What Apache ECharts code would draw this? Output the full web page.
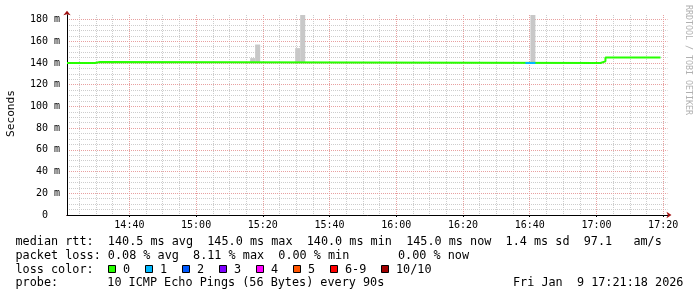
<!DOCTYPE html>
<html><head><meta charset="utf-8">
<script src="https://cdn.jsdelivr.net/npm/echarts@6/dist/echarts.min.js"></script>
<style>html,body{margin:0;padding:0;background:#fff}#c{width:697px;height:297px}</style>
</head><body><div id="c"></div>
<script>
// ---- data ----
const xTickLabels = ['14:40','15:00','15:20','15:40','16:00','16:20','16:40','17:00','17:20'];
const yTickValues = [0,20,40,60,80,100,120,140,160,180];
const axisStart = '14:21:18';
const axisEnd = '17:21:18';
const yMax = 184.2;

// median RTT (ms), step changes: value holds from each time until the next
const medianTimes  = ['14:21:18','14:29:42','14:31:12','17:01:12','17:02:42','17:19:12'];
const medianValues = [140, 141, 140, 141.5, 145, 145];

// smoke (ping spread) per 90 s step
const smokeStart = ['15:16:12','15:17:42','15:29:42','15:31:12','16:40:12'];
const smokeEnd   = ['15:17:42','15:19:12','15:31:12','15:32:42','16:41:42'];
const smokeLow   = [140, 140, 140, 140, 140];
const smokeHigh  = [144.5, 157, 153.7, 184.2, 184.2];

// packet-loss coloured stretches of the median line
const lossStart  = ['16:38:42'];
const lossEnd    = ['16:41:42'];
const lossLevel  = [1];
const lossMedian = [140];

const lossNames  = ['0','1','2','3','4','5','6-9','10/10'];
const lossColors = ['#26ff00','#00b8ff','#0059ff','#7e00ff','#ff00ff','#ff5500','#ff0000','#a10000'];

const statRtt  = 'median rtt:  140.5 ms avg  145.0 ms max  140.0 ms min  145.0 ms now  1.4 ms sd  97.1   am/s';
const statLossA = 'packet loss: 0.08 % avg  8.11 % max  0.00 % min';
const statLossB = '0.00 % now';
const probeLabel = 'probe:';
const probeText = '10 ICMP Echo Pings (56 Bytes) every 90s';
const dateText = 'Fri Jan  9 17:21:18 2026';

// ---- build ----
function toMin(s){const p=s.split(':').map(Number);return p[0]*60+p[1]+(p[2]||0)/60;}
function fmtMin(v){const h=Math.floor(v/60+1e-9), m=Math.round(v-h*60);return h+':'+(m<10?'0':'')+m;}
const xMin = toMin(axisStart), xMax = toMin(axisEnd);
const majorX = xTickLabels.map(toMin);
const minorX = [];
for (let v = Math.ceil(xMin/5)*5; v <= xMax; v += 5) if (majorX.indexOf(v) < 0) minorX.push(v);
const minorY = [];
for (let v = 5; v < 180; v += 5) if (yTickValues.indexOf(v) < 0) minorY.push(v);

const MONO = '"DejaVu Sans Mono", monospace';
const green = lossColors[0];

const smokeData = smokeStart.map((s,i)=>[toMin(s), toMin(smokeEnd[i]), smokeLow[i], smokeHigh[i]]);
const medianData = medianTimes.map((t,i)=>[toMin(t), medianValues[i]]);

const series = [
  {
    type:'custom', xAxisIndex:0, yAxisIndex:0, clip:true, z:2,
    encode:{x:[0,1], y:[2,3]},
    data: smokeData,
    renderItem(params, api){
      const p1 = api.coord([api.value(0), api.value(3)]);
      const p2 = api.coord([api.value(1), api.value(2)]);
      return {type:'rect', shape:{x:p1[0], y:p1[1], width:p2[0]-p1[0], height:p2[1]-p1[1]}, style:{fill:'#c8c8c8'}};
    }
  },
  {
    type:'line', xAxisIndex:0, yAxisIndex:0, step:'end', symbol:'none', z:3,
    data: medianData,
    lineStyle:{color:green, width:2}, itemStyle:{color:green}, animation:false
  }
];
lossStart.forEach((s,i)=>{
  series.push({
    type:'line', xAxisIndex:0, yAxisIndex:0, symbol:'none', z:4,
    data:[[toMin(s), lossMedian[i]],[toMin(lossEnd[i]), lossMedian[i]]],
    lineStyle:{color:lossColors[lossLevel[i]], width:2}, animation:false
  });
});

const graphic = [
  {type:'text', x:11, y:113.5, rotation:Math.PI/2, style:{text:'Seconds', fontFamily:MONO, fontSize:11.2, fill:'#000', align:'center', verticalAlign:'middle'}},
  {type:'text', x:688.5, y:60, rotation:-Math.PI/2, style:{text:'RRDTOOL / TOBI OETIKER', fontFamily:MONO, fontSize:8.3, fill:'#b0b0b0', align:'center', verticalAlign:'middle'}},
  {type:'text', x:15.5, y:242, style:{text:statRtt, fontFamily:MONO, fontSize:11.8, fill:'#000', verticalAlign:'middle'}},
  {type:'text', x:15.5, y:255.5, style:{text:statLossA, fontFamily:MONO, fontSize:11.8, fill:'#000', verticalAlign:'middle'}},
  {type:'text', x:398, y:255.5, style:{text:statLossB, fontFamily:MONO, fontSize:11.8, fill:'#000', verticalAlign:'middle'}},
  {type:'text', x:15.5, y:269.5, style:{text:'loss color:', fontFamily:MONO, fontSize:11.8, fill:'#000', verticalAlign:'middle'}},
  {type:'text', x:15.5, y:283, style:{text:probeLabel, fontFamily:MONO, fontSize:11.8, fill:'#000', verticalAlign:'middle'}},
  {type:'text', x:107.3, y:283, style:{text:probeText, fontFamily:MONO, fontSize:11.8, fill:'#000', verticalAlign:'middle'}},
  {type:'text', x:513, y:283, style:{text:dateText, fontFamily:MONO, fontSize:11.8, fill:'#000', verticalAlign:'middle'}}
];
const boxX = [108.5, 145.5, 182.5, 219.5, 256.5, 293.5, 330.5, 381.5];
lossNames.forEach((n,i)=>{
  graphic.push({type:'rect', shape:{x:boxX[i], y:265.5, width:7, height:7}, style:{fill:lossColors[i], stroke:'#000', lineWidth:1}});
  graphic.push({type:'text', x:boxX[i]+14.5, y:269.5, style:{text:n, fontFamily:MONO, fontSize:11.8, fill:'#000', verticalAlign:'middle'}});
});

const chart = echarts.init(document.getElementById('c'), null, {renderer:'canvas'});
chart.setOption({
  animation:false,
  backgroundColor:'#fff',
  grid:{left:67, top:15, width:600.5, height:200, containLabel:false},
  xAxis:[
    {type:'value', min:xMin, max:xMax, position:'bottom', z:2,
     axisLine:{show:true, onZero:false, lineStyle:{color:'#000', width:1}},
     axisTick:{show:true, customValues:majorX, length:2, lineStyle:{color:'#000'}},
     axisLabel:{customValues:majorX, formatter:v=>fmtMin(v), fontFamily:MONO, fontSize:10, color:'#000', margin:5},
     splitLine:{show:true, lineStyle:{color:'#e8a0a0', type:[1,1], width:1}}},
    {type:'value', min:xMin, max:xMax, position:'bottom', z:1,
     axisLine:{show:true, onZero:false, symbol:['none','arrow'], symbolSize:[5,5], symbolOffset:[0,4], lineStyle:{color:'#a01010', width:1}},
     axisTick:{show:false, customValues:minorX},
     axisLabel:{show:false, customValues:minorX},
     splitLine:{show:true, lineStyle:{color:'#cdcdcd', type:[1,1], width:1}}}
  ],
  yAxis:[
    {type:'value', min:0, max:yMax, position:'left', z:2,
     axisLine:{show:true, onZero:false, lineStyle:{color:'#000', width:1}},
     axisTick:{show:false, customValues:yTickValues},
     axisLabel:{customValues:yTickValues, formatter:v=>v===0?'0  ':v+' m', fontFamily:MONO, fontSize:10, color:'#000', margin:7},
     splitLine:{show:true, lineStyle:{color:'#e8a0a0', type:[1,1], width:1}}},
    {type:'value', min:0, max:yMax, position:'left', z:1,
     axisLine:{show:true, onZero:false, symbol:['none','arrow'], symbolSize:[5.5,4.5], symbolOffset:[0,4.2], lineStyle:{color:'#a01010', width:1}},
     axisTick:{show:false, customValues:minorY},
     axisLabel:{show:false, customValues:minorY},
     splitLine:{show:true, lineStyle:{color:'#cdcdcd', type:[1,1], width:1}}}
  ],
  series: series,
  graphic: graphic
});
</script>
</body></html>
